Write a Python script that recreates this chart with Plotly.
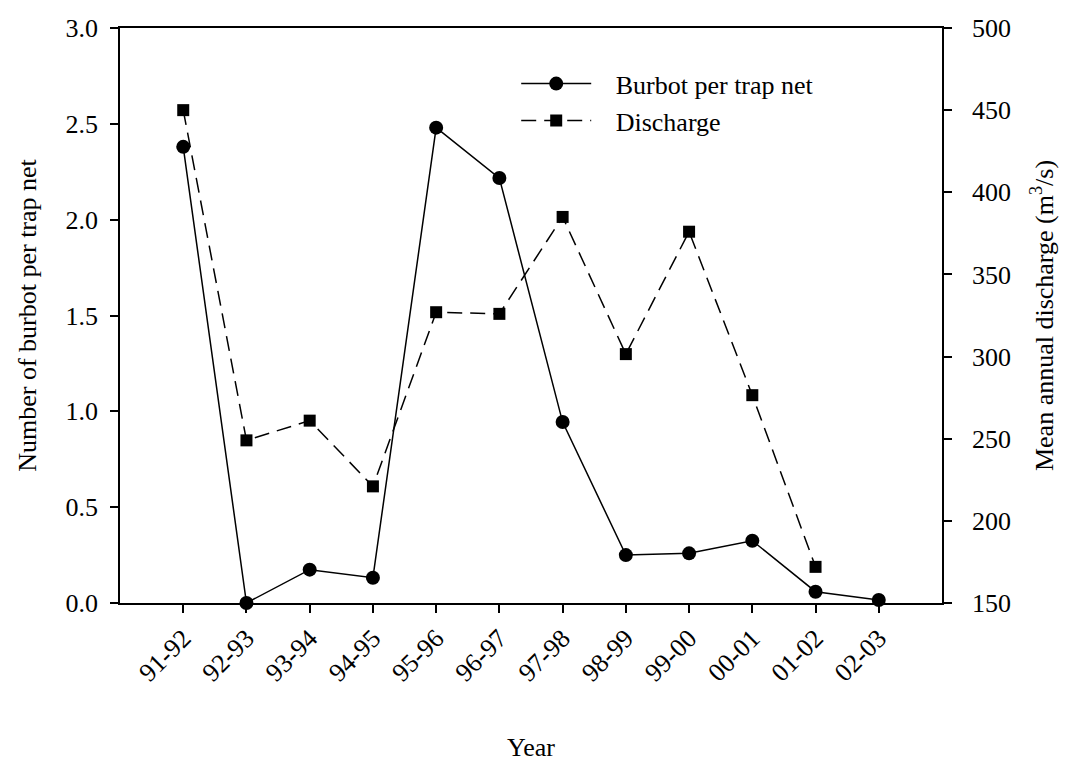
import plotly.graph_objects as go

years = ["91-92", "92-93", "93-94", "94-95", "95-96", "96-97",
         "97-98", "98-99", "99-00", "00-01", "01-02", "02-03"]
burbot = [2.38, 0.00, 0.174, 0.132, 2.48, 2.217, 0.944, 0.25, 0.259, 0.325, 0.059, 0.016]
discharge = [450, 249, 261, 221, 327, 326, 385, 301.5, 376, 276.5, 172, None]

FONT = "Times New Roman, Liberation Serif, serif"
PAD = "\u00a0\u00a0\u00a0"

fig = go.Figure()
fig.add_trace(go.Scatter(
    x=years, y=burbot, name=PAD + "Burbot per trap net", mode="lines+markers",
    line=dict(color="black", width=1.5),
    marker=dict(symbol="circle", size=14, color="black"),
    cliponaxis=False,
))
fig.add_trace(go.Scatter(
    x=years, y=discharge, name=PAD + "Discharge", mode="lines+markers", yaxis="y2",
    line=dict(color="black", width=1.5, dash="15px,8px"),
    marker=dict(symbol="square", size=12, color="black"),
    cliponaxis=False,
))

axis_common = dict(
    showline=True, linecolor="black", linewidth=1.5,
    ticks="outside", ticklen=8, tickwidth=1.5, tickcolor="black",
    showgrid=False, zeroline=False, automargin=False,
    tickfont=dict(family=FONT, size=26, color="black"),
)

fig.update_layout(
    width=1078, height=762,
    margin=dict(l=120, r=136, t=28, b=159, autoexpand=False),
    paper_bgcolor="white", plot_bgcolor="white",
    font=dict(family=FONT, size=26, color="black"),
    showlegend=True,
    legend=dict(x=0.482, y=0.944, xanchor="left", yanchor="top",
                bgcolor="rgba(0,0,0,0)", font=dict(family=FONT, size=26),
                itemwidth=70, tracegroupgap=0),
    xaxis=dict(
        type="category", categoryorder="array", categoryarray=years,
        range=[-1, 12], tickangle=-45, mirror=True,
        title=dict(text="Year", font=dict(family=FONT, size=26), standoff=52),
        **axis_common,
    ),
    yaxis=dict(
        range=[0, 3], dtick=0.5, tickformat=".1f", ticklabelstandoff=7,
        title=dict(text="Number of burbot per trap net", font=dict(family=FONT, size=26),
                   standoff=21),
        **axis_common,
    ),
    yaxis2=dict(
        range=[150, 500], dtick=50, overlaying="y", side="right", ticklabelstandoff=15,
        title=dict(text="Mean annual discharge (m<sup>3</sup>/s)", font=dict(family=FONT, size=26),
                   standoff=25),
        **axis_common,
    ),
)

fig.write_html("out.html")
